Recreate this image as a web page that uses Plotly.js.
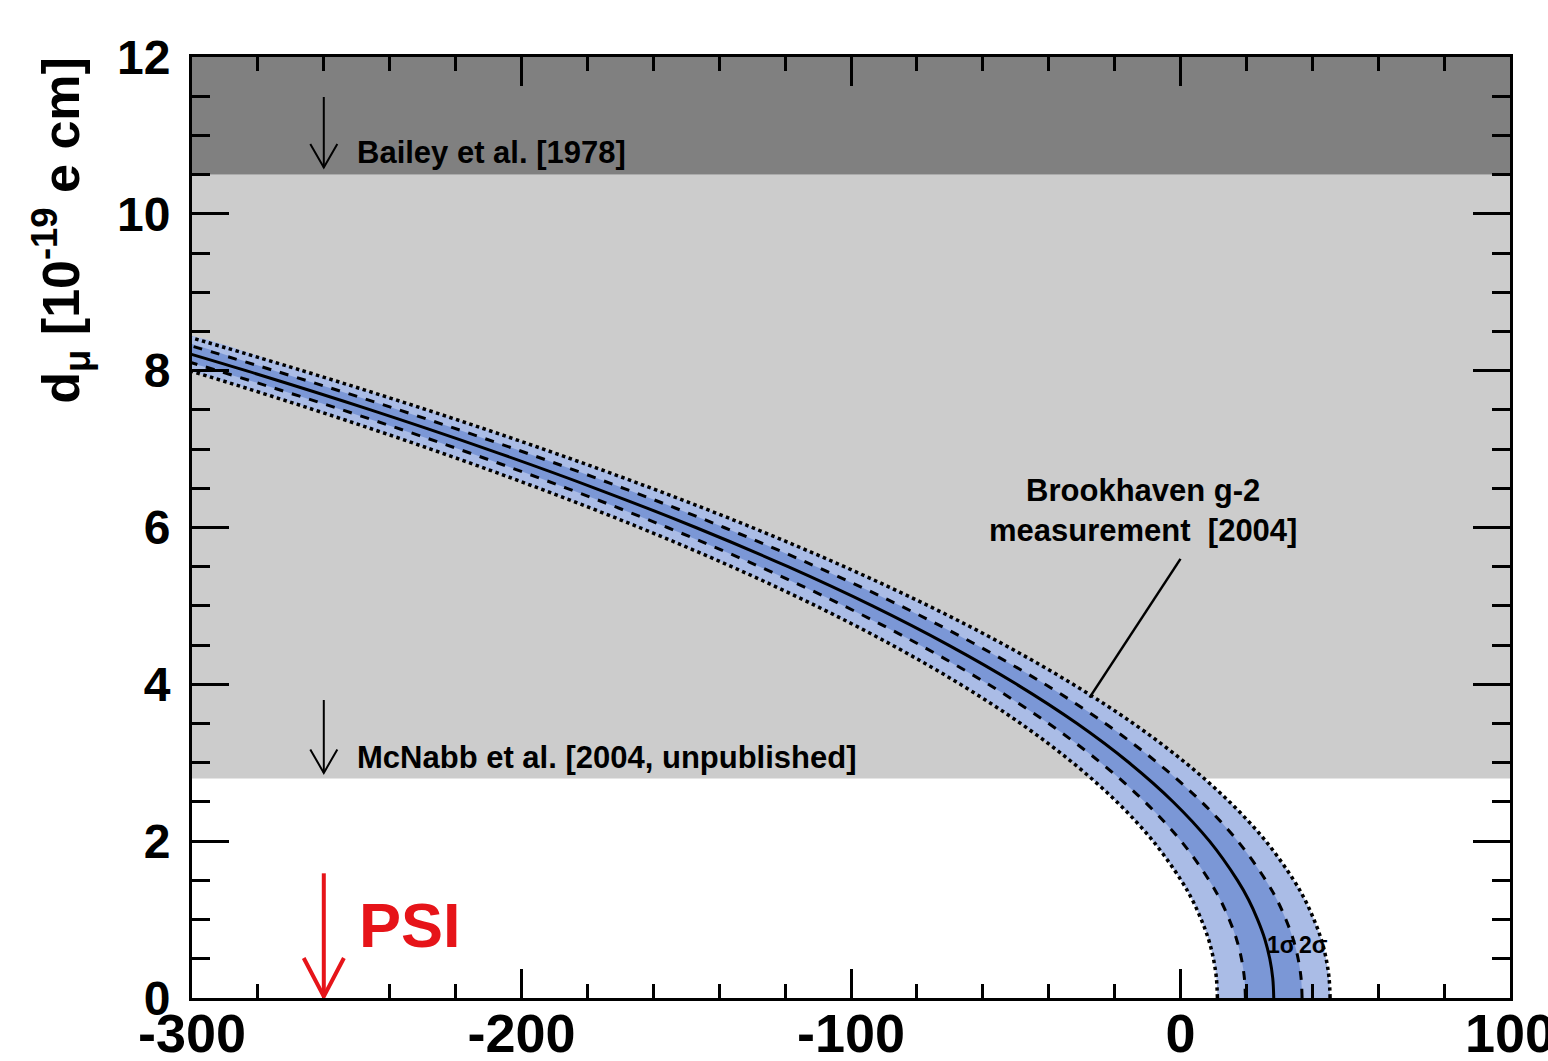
<!DOCTYPE html>
<html>
<head>
<meta charset="utf-8">
<script src="https://cdn.plot.ly/plotly-3.0.1.min.js"></script>
<style>html,body{margin:0;padding:0;background:#fff;}</style>
</head>
<body>
<div id="chart" style="width:1548px;height:1061px;"></div>
<script>
// EDM values d_mu [1e-19 e cm] along the Brookhaven g-2 band
const dValues   = [0, 0.25, 0.5, 0.75, 1, 1.25, 1.5, 2, 2.5, 3, 3.5, 4, 4.5, 5, 5.5, 6, 6.5, 7, 7.5, 8, 8.5];
// x positions (anomaly, 1e-10) of each curve at those d values
const centralX  = [28.3, 28.0, 27.1, 25.6, 23.4, 20.7, 17.3, 8.8, -2.2, -15.6, -31.4, -49.7, -70.4, -93.5, -119.1, -147.1, -177.6, -210.5, -245.8, -283.6, -323.8];
const sig1LowX  = [19.7, 19.4, 18.5, 17.0, 14.8, 12.1, 8.7, 0.2, -10.8, -24.2, -40.0, -58.3, -79.0, -102.1, -127.7, -155.7, -186.2, -219.1, -254.4, -292.2, -332.4];
const sig1HighX = [36.9, 36.6, 35.7, 34.2, 32.0, 29.3, 25.9, 17.4, 6.4, -7.0, -22.8, -41.1, -61.8, -84.9, -110.5, -138.5, -169.0, -201.9, -237.2, -275.0, -315.2];
const sig2LowX  = [11.2, 10.9, 10.0, 8.5, 6.3, 3.6, 0.2, -8.3, -19.3, -32.7, -48.5, -66.8, -87.5, -110.6, -136.2, -164.2, -194.7, -227.6, -262.9, -300.7, -340.9];
const sig2HighX = [45.4, 45.1, 44.2, 42.7, 40.5, 37.8, 34.4, 25.9, 14.9, 1.5, -14.3, -32.6, -53.3, -76.4, -102.0, -130.0, -160.5, -193.4, -228.7, -266.5, -306.7];

// experimental upper limits
const baileyLimit = 10.5;
const mcnabbLimit = 2.8;
const yMax = 12;
const xRange = [-300, 100];
const yRange = [0, 12];
const xTickVals = [-300, -200, -100, 0, 100];
const xTickText = ['-300', '-200', '-100', '0', '100'];
const yTickVals = [0, 2, 4, 6, 8, 10, 12];
const yTickText = ['0', '2', '4', '6', '8', '10', '12'];

// arrow positions
const arrowX = -260;

const lightBlue = 'rgb(170,188,230)';
const darkBlue = 'rgb(123,151,214)';

function band(lowX, highX, color) {
  return {
    x: highX.concat(lowX.slice().reverse()),
    y: dValues.concat(dValues.slice().reverse()),
    type: 'scatter', mode: 'lines', fill: 'toself', fillcolor: color,
    line: {width: 0, shape: 'spline', smoothing: 1}, hoverinfo: 'skip'
  };
}
function curve(xs, dash, w) {
  return {
    x: xs, y: dValues, type: 'scatter', mode: 'lines',
    line: {color: 'black', width: w, dash: dash, shape: 'spline', smoothing: 1}
  };
}

const traces = [
  band(sig2LowX, sig2HighX, lightBlue),
  band(sig1LowX, sig1HighX, darkBlue),
  curve(sig2LowX, 'dot', 3.5),
  curve(sig2HighX, 'dot', 3.5),
  curve(sig1LowX, 'dash', 3),
  curve(sig1HighX, 'dash', 3),
  curve(centralX, 'solid', 3)
];

function vArrow(x, yTop, yTip, hw, hh, color, w) {
  return [
    {type: 'line', xref: 'x', yref: 'y', x0: x, x1: x, y0: yTop, y1: yTip, line: {color: color, width: w}},
    {type: 'path', xref: 'x', yref: 'y',
     path: 'M' + (x - hw) + ',' + (yTip + hh) + ' L' + x + ',' + yTip + ' L' + (x + hw) + ',' + (yTip + hh),
     line: {color: color, width: w}}
  ];
}

const shapes = [
  {type: 'rect', xref: 'paper', yref: 'y', x0: 0, x1: 1, y0: baileyLimit, y1: yMax, fillcolor: '#808080', line: {width: 0}, layer: 'below'},
  {type: 'rect', xref: 'paper', yref: 'y', x0: 0, x1: 1, y0: mcnabbLimit, y1: baileyLimit, fillcolor: '#cccccc', line: {width: 0}, layer: 'below'},
  ...vArrow(arrowX, 11.49, 10.59, 4.1, 0.30, 'black', 2),
  ...vArrow(arrowX, 3.80, 2.87, 4.1, 0.30, 'black', 2),
  ...vArrow(arrowX, 1.59, 0.02, 6.1, 0.49, 'rgb(230,20,25)', 4),
  {type: 'line', xref: 'x', yref: 'y', x0: 0, y0: 5.6, x1: -27.6, y1: 3.83, line: {color: 'black', width: 2.5}}
];

const FONT = 'Liberation Sans, Arial, Helvetica, sans-serif';
const annotations = [
  {x: -250.5, y: 10.78, xref: 'x', yref: 'y', xanchor: 'left', yanchor: 'middle', showarrow: false,
   text: 'Bailey et al. [1978]', font: {family: FONT, size: 31, weight: 'bold', color: 'black'}},
  {x: -250.5, y: 3.07, xref: 'x', yref: 'y', xanchor: 'left', yanchor: 'middle', showarrow: false,
   text: 'McNabb et al. [2004, unpublished]', font: {family: FONT, size: 31, weight: 'bold', color: 'black'}},
  {x: -250, y: 0.93, xref: 'x', yref: 'y', xanchor: 'left', yanchor: 'middle', showarrow: false,
   text: 'PSI', font: {family: FONT, size: 63, weight: 'bold', color: 'rgb(230,20,25)'}},
  {x: -11.5, y: 6.22, xref: 'x', yref: 'y', xanchor: 'center', yanchor: 'middle', showarrow: false,
   text: 'Brookhaven g-2<br>measurement\u00a0 [2004]', font: {family: FONT, size: 31, weight: 'bold', color: 'black'}},
  {x: 30.8, y: 0.68, xref: 'x', yref: 'y', xanchor: 'center', yanchor: 'middle', showarrow: false,
   text: '1σ', font: {family: FONT, size: 23, weight: 'bold', color: 'black'}},
  {x: 40.3, y: 0.68, xref: 'x', yref: 'y', xanchor: 'center', yanchor: 'middle', showarrow: false,
   text: '2σ', font: {family: FONT, size: 23, weight: 'bold', color: 'black'}},
  {x: -0.099, y: 0.816, xref: 'paper', yref: 'paper', xanchor: 'center', yanchor: 'middle', showarrow: false,
   textangle: -90, text: 'd<sub>μ</sub> [10<sup>-19</sup> e cm]',
   font: {family: FONT, size: 52, weight: 'bold', color: 'black'}}
];

const layout = {
  width: 1548, height: 1061,
  margin: {l: 192, r: 38, t: 57, b: 63, pad: 0},
  paper_bgcolor: 'white', plot_bgcolor: 'white',
  showlegend: false,
  xaxis: {
    range: xRange, tickmode: 'array', tickvals: xTickVals, ticktext: xTickText,
    ticks: 'inside', ticklen: 29, tickwidth: 3, tickcolor: 'black',
    minor: {dtick: 20, tick0: -300, ticklen: 14, tickwidth: 3, tickcolor: 'black', ticks: 'inside'},
    showline: true, linewidth: 3, linecolor: 'black', mirror: 'allticks',
    showgrid: false, zeroline: false, ticklabelstandoff: -14, ticklabeloverflow: 'allow',
    tickfont: {family: FONT, size: 54, weight: 'bold', color: 'black'}
  },
  yaxis: {
    range: yRange, tickmode: 'array', tickvals: yTickVals, ticktext: yTickText,
    ticks: 'inside', ticklen: 37, tickwidth: 3, tickcolor: 'black',
    minor: {dtick: 0.5, tick0: 0, ticklen: 18, tickwidth: 3, tickcolor: 'black', ticks: 'inside'},
    showline: true, linewidth: 3, linecolor: 'black', mirror: 'allticks',
    showgrid: false, zeroline: false, ticklabelstandoff: 9, ticklabeloverflow: 'allow',
    tickfont: {family: FONT, size: 48, weight: 'bold', color: 'black'}
  },
  shapes: shapes,
  annotations: annotations
};

Plotly.newPlot('chart', traces, layout, {staticPlot: true});
</script>
</body>
</html>
